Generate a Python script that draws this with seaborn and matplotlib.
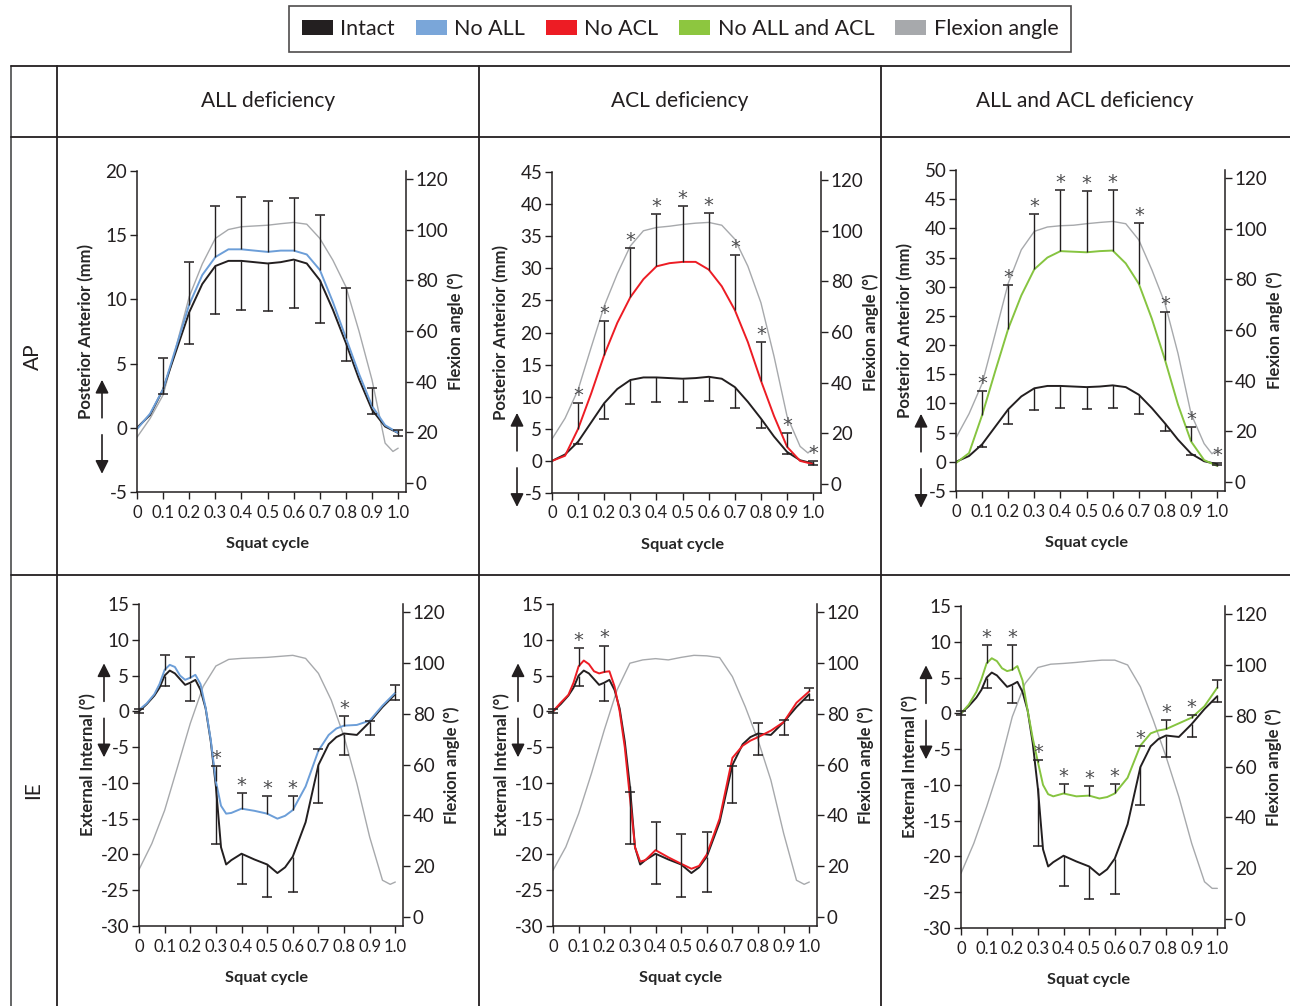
import numpy as np
import seaborn as sns
import matplotlib.pyplot as plt
from matplotlib.patches import Patch
from matplotlib.transforms import blended_transform_factory, offset_copy

# squat cycle grids
squat_ap = [0.0, 0.05, 0.1, 0.15, 0.2, 0.25, 0.3, 0.35, 0.4, 0.45, 0.5,
            0.55, 0.6, 0.65, 0.7, 0.75, 0.8, 0.85, 0.9, 0.95, 1.0]
squat_ie = [0.0, 0.03, 0.06, 0.08, 0.1, 0.12, 0.14, 0.16, 0.18, 0.2, 0.22,
            0.24, 0.26, 0.28, 0.3, 0.32, 0.34, 0.36, 0.4, 0.45, 0.5, 0.54,
            0.57, 0.6, 0.65, 0.7, 0.74, 0.77, 0.8, 0.85, 0.9, 0.95, 1.0]
squat_flex = [0.0, 0.05, 0.1, 0.15, 0.2, 0.25, 0.3, 0.35, 0.4, 0.45, 0.5,
              0.55, 0.6, 0.65, 0.7, 0.75, 0.8, 0.85, 0.9, 0.95, 0.98, 1.0]
bar_ap = [0.1, 0.2, 0.3, 0.4, 0.5, 0.6, 0.7, 0.8, 0.9, 1.0]
bar_ie = [0.0, 0.1, 0.2, 0.3, 0.4, 0.5, 0.6, 0.7, 0.8, 0.9, 1.0]

# AP translation (mm)
intact_ap = [0.0, 1.0, 3.0, 6.0, 9.0, 11.2, 12.6, 13.0, 13.0, 12.9, 12.8,
             12.9, 13.1, 12.8, 11.5, 9.2, 6.6, 3.8, 1.4, 0.1, -0.4]
no_all_ap = [-0.1, 1.1, 3.0, 6.3, 9.6, 11.9, 13.3, 13.9, 13.9, 13.8, 13.7,
             13.8, 13.8, 13.5, 12.3, 9.8, 7.0, 4.2, 1.7, 0.2, -0.4]
no_acl_ap = [0.0, 0.8, 5.0, 10.5, 16.5, 21.5, 25.5, 28.3, 30.3, 30.8, 31.0,
             31.0, 29.8, 27.2, 23.5, 18.5, 12.5, 7.0, 2.2, 0.0, -0.5]
no_both_ap = [-0.2, 1.5, 8.0, 15.5, 22.8, 28.5, 33.0, 35.0, 36.1, 36.0, 35.9,
              36.1, 36.2, 34.0, 30.5, 24.5, 17.5, 9.8, 3.5, 0.3, -0.7]
intact_ap_low = [2.6, 6.5, 8.9, 9.2, 9.1, 9.3, 8.2, 5.2, 1.1, -0.6]
no_all_ap_high = [5.4, 12.9, 17.3, 18.0, 17.7, 17.9, 16.6, 10.9, 3.1, -0.2]
no_acl_ap_high = [9.0, 21.8, 33.2, 38.5, 39.7, 38.6, 32.1, 18.5, 4.3, 0.0]
no_both_ap_high = [12.1, 30.3, 42.5, 46.5, 46.4, 46.5, 40.9, 25.6, 6.0, -0.2]

# IE rotation (deg)
intact_ie = [0.0, 1.0, 2.2, 3.3, 5.0, 5.7, 5.3, 4.5, 3.7, 4.0, 4.4, 3.0, 0.4,
             -4.2, -10.5, -19.0, -21.4, -20.8, -19.9, -20.7, -21.4, -22.6,
             -21.8, -20.3, -15.5, -7.5, -4.6, -3.6, -3.1, -3.3, -1.5, 0.6, 2.4]
no_all_ie = [0.2, 1.1, 2.4, 3.8, 5.8, 6.5, 6.2, 5.0, 4.4, 4.7, 5.1, 3.8, 0.5,
             -4.0, -9.8, -13.2, -14.3, -14.2, -13.6, -13.9, -14.3, -15.0,
             -14.6, -13.8, -10.5, -5.5, -3.3, -2.4, -2.0, -1.9, -1.3, 0.8, 2.6]
no_acl_ie = [0.0, 1.2, 2.3, 4.0, 6.3, 7.1, 6.6, 5.6, 5.3, 5.5, 5.6, 3.5, 0.0,
             -5.0, -12.0, -19.0, -21.0, -20.8, -19.4, -20.4, -21.3, -22.0,
             -21.6, -20.0, -15.0, -6.5, -4.8, -4.1, -3.6, -2.7, -1.5, 1.2, 2.8]
no_both_ie = [0.0, 1.2, 3.0, 4.8, 7.0, 7.7, 7.3, 6.3, 5.9, 6.1, 6.6, 4.6, 0.4,
              -3.5, -6.8, -10.0, -11.3, -11.6, -11.2, -11.6, -11.5, -11.9,
              -11.7, -11.2, -9.0, -4.5, -2.8, -2.4, -2.2, -1.4, -0.6, 1.0, 3.6]
intact_ie_low = [-0.3, 3.5, 1.5, -18.5, -24.2, -25.9, -25.3, -12.8, -6.1, -3.3, 1.6]
no_all_ie_high = [0.3, 7.9, 7.6, -7.6, -11.4, -11.8, -11.8, -5.2, -0.7, -1.4, 3.7]
no_acl_ie_high = [0.3, 8.8, 9.2, -11.3, -15.5, -17.1, -16.9, -7.7, -1.6, -1.2, 3.3]
no_both_ie_high = [0.3, 9.6, 9.6, -6.5, -9.9, -10.2, -9.9, -4.6, -1.0, -0.2, 4.6]

# flexion angle (deg), right axis
flex_ap_all = [18.1, 25.5, 34.8, 53.9, 73.6, 86.5, 96.6, 100.1, 101.2, 101.5, 101.8,
               102.4, 102.9, 102.2, 96.6, 88.0, 77.5, 60.0, 40.7, 15.8, 12.5, 13.8]
flex_ap_acl = [17.8, 26.0, 37.3, 54.0, 70.3, 83.0, 94.0, 100.0, 101.3, 101.8, 102.5,
               103.0, 103.3, 102.2, 96.7, 86.0, 71.6, 50.5, 26.8, 14.9, 12.3, 14.2]
flex_ap_both = [17.5, 27.0, 38.9, 58.5, 78.5, 91.7, 99.0, 100.7, 101.2, 101.4, 102.0,
                102.5, 102.9, 102.0, 95.6, 83.8, 70.6, 50.8, 27.0, 15.2, 11.2, 12.8]
flex_ie_all = [18.7, 28.9, 42.0, 59.0, 76.2, 90.7, 98.8, 101.4, 101.8, 102.0, 102.2,
               102.6, 103.0, 101.8, 95.9, 85.4, 71.0, 52.6, 31.5, 14.5, 12.9, 13.8]
flex_ie_acl = [18.4, 27.6, 40.7, 56.5, 73.6, 89.4, 99.9, 101.2, 101.7, 101.2, 102.2,
               103.0, 102.8, 102.1, 94.6, 82.8, 69.6, 53.9, 32.9, 14.5, 12.9, 13.8]
flex_ie_both = [18.0, 29.8, 44.2, 59.9, 79.6, 92.7, 99.0, 100.3, 100.6, 101.0, 101.5,
                101.9, 101.9, 100.0, 91.4, 78.3, 63.9, 48.1, 29.8, 14.7, 12.1, 12.1]

# significant points
stars_ap_all = []
stars_ap_acl = [0.1, 0.2, 0.3, 0.4, 0.5, 0.6, 0.7, 0.8, 0.9, 1.0]
stars_ap_both = [0.1, 0.2, 0.3, 0.4, 0.5, 0.6, 0.7, 0.8, 0.9, 1.0]
stars_ie_all = [0.3, 0.4, 0.5, 0.6, 0.8]
stars_ie_acl = [0.1, 0.2]
stars_ie_both = [0.1, 0.2, 0.3, 0.4, 0.5, 0.6, 0.7, 0.8, 0.9]

col_titles = ['ALL deficiency', 'ACL deficiency', 'ALL and ACL deficiency']
row_titles = ['AP', 'IE']
legend_labels = ['Intact', 'No ALL', 'No ACL', 'No ALL and ACL', 'Flexion angle']

BLACK = '#231f20'
BLUE = '#6c9ed8'
RED = '#ed1c24'
GREEN = '#86c440'
GRAY = '#a7a9ac'
STAR = '#4d4d4f'

sns.set_theme(style='ticks')
plt.rcParams['font.family'] = ['Lato', 'DejaVu Sans']
plt.rcParams['axes.unicode_minus'] = False
plt.rcParams['text.color'] = BLACK

W, H = 1290, 1006
fig = plt.figure(figsize=(W / 100, H / 100), dpi=100)

# table frame
bg = fig.add_axes([0, 0, 1, 1], zorder=-5)
bg.set_xlim(0, W)
bg.set_ylim(H, 0)
bg.axis('off')
for xv in [11, 57, 479, 881]:
    bg.plot([xv, xv], [66, H], color=BLACK if xv != 11 else '#58595b', lw=1.3)
for yv in [66, 137, 575]:
    bg.plot([11, W], [yv, yv], color=BLACK, lw=1.3)
for cx, t in zip([268, 680, 1085], col_titles):
    bg.text(cx, 101, t, ha='center', va='center', fontsize=15)
for cy, t in zip([357, 790], row_titles):
    bg.text(33, cy, t, ha='center', va='center', fontsize=15, rotation=90)


def px_rect(x0, x1, ytop, ybot):
    return [x0 / W, 1 - ybot / H, (x1 - x0) / W, (ybot - ytop) / H]


def draw_panel(rect, x, intact, cond, color, bar_x, low, high, flex, stars,
               ylim, ylabel):
    ax = fig.add_axes(rect)
    ax2 = ax.twinx()
    ax.set_zorder(ax2.get_zorder() + 1)
    ax.patch.set_visible(False)

    sns.lineplot(x=squat_flex, y=flex, ax=ax2, color=GRAY, linewidth=1.0)
    sns.lineplot(x=x, y=intact, ax=ax, color=BLACK, linewidth=1.4)
    sns.lineplot(x=x, y=cond, ax=ax, color=color, linewidth=1.4)

    at_i = dict(zip(x, intact))
    at_c = dict(zip(x, cond))
    yi = np.array([at_i[v] for v in bar_x])
    yc = np.array([at_c[v] for v in bar_x])
    low_err = np.clip(yi - np.array(low), 0, None)
    high_err = np.clip(np.array(high) - yc, 0, None)
    zeros = np.zeros(len(bar_x))
    ax.errorbar(bar_x, yi, yerr=[low_err, zeros], fmt='none', ecolor=BLACK, elinewidth=1.0)
    ax.errorbar(bar_x, yc, yerr=[zeros, high_err], fmt='none', ecolor=BLACK, elinewidth=1.0)
    ax.plot(bar_x, low, '_', ms=6.5, mew=1.1, color=BLACK, clip_on=False)
    ax.plot(bar_x, high, '_', ms=6.5, mew=1.1, color=BLACK, clip_on=False)
    top = dict(zip(bar_x, high))
    for sx in stars:
        ax.annotate('*', xy=(sx, top[sx]), xytext=(0, 1.5), textcoords='offset points',
                    ha='center', va='baseline', fontsize=14, color=STAR,
                    family='DejaVu Sans')

    ax.set_xlim(0, 1.03)
    ax.set_xticks(bar_ie)
    ax.set_xticklabels(['0'] + ['%.1f' % v for v in bar_ie[1:]])
    ax.set_ylim(*ylim)
    ax.set_yticks(np.arange(ylim[0], ylim[1] + 1, 5))
    ax2.set_ylim(-3.5, 123.2)
    ax2.set_yticks(np.arange(0, 121, 20))

    for a in (ax, ax2):
        a.tick_params(length=5, width=1.0, color=BLACK, labelsize=13.5,
                      labelcolor=BLACK, pad=2)
        for s in a.spines.values():
            s.set_color(BLACK)
            s.set_linewidth(1.1)
    ax.tick_params(axis='x', pad=4, labelsize=12)
    ax.spines['top'].set_visible(False)
    ax.spines['right'].set_visible(False)
    for s in ['top', 'left', 'bottom']:
        ax2.spines[s].set_visible(False)

    ax.set_xlabel('Squat cycle', fontsize=11.8, fontweight='bold')
    ax.xaxis.set_label_coords(0.485, -0.14)
    ax.set_ylabel(ylabel, fontsize=12, fontweight='bold')
    ax.yaxis.set_label_coords(-0.16, 0.5)
    ax2.set_ylabel('Flexion angle (°)', fontsize=12, fontweight='bold')
    ax2.yaxis.set_label_coords(1.155, 0.5)

    # direction arrows beside the left axis
    base = blended_transform_factory(ax.transAxes, ax.transData)
    xa = -35 / (rect[2] * W)
    for y0, y1 in [(10, 48), (-7, -46)]:
        ax.annotate('', xy=(xa, 0), xycoords=offset_copy(base, fig=fig, y=y1, units='dots'),
                    xytext=(xa, 0), textcoords=offset_copy(base, fig=fig, y=y0, units='dots'),
                    arrowprops=dict(arrowstyle='-|>', color=BLACK, lw=1.2,
                                    mutation_scale=20, shrinkA=0, shrinkB=0))
    return ax


ap_label = 'Posterior Anterior (mm)'
ie_label = 'External Internal (°)'
draw_panel(px_rect(137, 406, 171, 492), squat_ap, intact_ap, no_all_ap, BLUE, bar_ap,
           intact_ap_low, no_all_ap_high, flex_ap_all, stars_ap_all, (-5, 20), ap_label)
draw_panel(px_rect(552, 821, 172, 493), squat_ap, intact_ap, no_acl_ap, RED, bar_ap,
           intact_ap_low, no_acl_ap_high, flex_ap_acl, stars_ap_acl, (-5, 45), ap_label)
draw_panel(px_rect(956, 1225, 170, 491), squat_ap, intact_ap, no_both_ap, GREEN, bar_ap,
           intact_ap_low, no_both_ap_high, flex_ap_both, stars_ap_both, (-5, 50), ap_label)
draw_panel(px_rect(139, 403, 604, 926), squat_ie, intact_ie, no_all_ie, BLUE, bar_ie,
           intact_ie_low, no_all_ie_high, flex_ie_all, stars_ie_all, (-30, 15), ie_label)
draw_panel(px_rect(553, 817, 604, 926), squat_ie, intact_ie, no_acl_ie, RED, bar_ie,
           intact_ie_low, no_acl_ie_high, flex_ie_acl, stars_ie_acl, (-30, 15), ie_label)
draw_panel(px_rect(961, 1225, 606, 928), squat_ie, intact_ie, no_both_ie, GREEN, bar_ie,
           intact_ie_low, no_both_ie_high, flex_ie_both, stars_ie_both, (-30, 15), ie_label)

handles = [Patch(facecolor=c, edgecolor='none') for c in
           [BLACK, '#7aa6d9', RED, '#8dc63f', GRAY]]
leg = fig.legend(handles, legend_labels, loc='upper center',
                 bbox_to_anchor=(680 / W, 1 - 6 / H), ncol=5, frameon=True,
                 fancybox=False, fontsize=15.5, handlelength=1.45, handleheight=0.75,
                 handletextpad=0.35, columnspacing=0.95, borderpad=0.6,
                 borderaxespad=0)
leg.get_frame().set_edgecolor(BLACK)
leg.get_frame().set_linewidth(1.2)

fig.savefig('out.png', dpi=100)
